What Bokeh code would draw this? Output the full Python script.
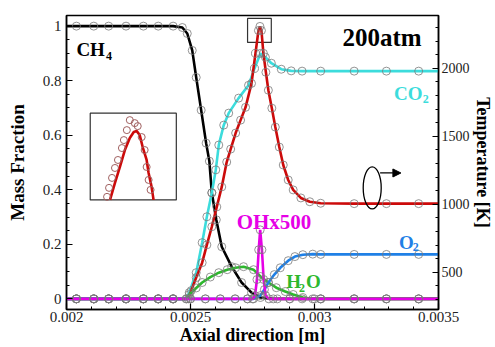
import numpy as np
from bokeh.plotting import figure
from bokeh.models import Range1d, LinearAxis, FixedTicker, Label, Arrow, NormalHead
from bokeh.embed import file_html
from bokeh.resources import INLINE

# ---------------- data ----------------
x_ticks = [0.002, 0.0025, 0.003, 0.0035]
x_tick_labels = ["0.002", "0.0025", "0.003", "0.0035"]
y_ticks = [0.0, 0.2, 0.4, 0.6, 0.8, 1.0]
y_tick_labels = ["0", "0.2", "0.4", "0.6", "0.8", "1"]
t_ticks = [500, 1000, 1500, 2000]
t_tick_labels = ["500", "1000", "1500", "2000"]

ch4_x = [0.0020, 0.00204, 0.00211, 0.00217, 0.00224, 0.00231, 0.00237, 0.00243,
         0.002467, 0.002487, 0.002507, 0.002523, 0.002543, 0.002563, 0.002576, 0.002586,
         0.002604, 0.002626, 0.002666, 0.002706, 0.002746, 0.002782, 0.002834, 0.00290,
         0.00300, 0.003025, 0.00316, 0.00329, 0.00342, 0.0035]
ch4_y = [1.0, 1.0, 1.0, 1.0, 1.0, 1.0, 1.0, 1.0,
         0.995, 0.973, 0.911, 0.812, 0.692, 0.571, 0.505, 0.389,
         0.290, 0.191, 0.118, 0.060, 0.023, 0.005, 0.0, 0.0,
         0.0, 0.0, 0.0, 0.0, 0.0, 0.0]

co2_x = [0.0020, 0.00204, 0.00211, 0.00217, 0.00224, 0.00231, 0.00237, 0.00243,
         0.002483, 0.002495, 0.002523, 0.002547, 0.002566, 0.002586, 0.002602, 0.002614,
         0.002634, 0.002654, 0.002694, 0.002734, 0.002758, 0.002782, 0.002802, 0.002826,
         0.002866, 0.002906, 0.00295, 0.003025, 0.00316, 0.00329, 0.00342, 0.0035]
co2_y = [0.0, 0.0, 0.0, 0.0, 0.0, 0.0, 0.0, 0.0,
         0.0, 0.023, 0.096, 0.206, 0.301, 0.389, 0.473, 0.564,
         0.637, 0.681, 0.736, 0.783, 0.845, 0.900, 0.886, 0.864,
         0.842, 0.836, 0.835, 0.835, 0.835, 0.835, 0.835, 0.835]

t_x = [0.0020, 0.00204, 0.00211, 0.00217, 0.00224, 0.00231, 0.00237, 0.00243,
       0.002491, 0.002503, 0.002523, 0.002547, 0.002566, 0.002586, 0.002606, 0.002626,
       0.002646, 0.002662, 0.002682, 0.002702, 0.002722, 0.002746, 0.002762, 0.002774,
       0.00278, 0.002786, 0.002794, 0.002804, 0.002814, 0.002828, 0.002842, 0.002858,
       0.002874, 0.002894, 0.002914, 0.002945, 0.002981, 0.003025, 0.00316, 0.00329,
       0.00342, 0.0035]
t_y = [305, 305, 305, 305, 305, 305, 305, 305,
       305, 366, 461, 571, 702, 835, 981, 1128,
       1311, 1406, 1524, 1619, 1713, 1889, 2110, 2278,
       2308, 2278, 2110, 1971, 1839, 1707, 1568, 1421,
       1289, 1179, 1106, 1047, 1019, 1008, 1005, 1005,
       1005, 1005]

h2o_x = [0.0020, 0.00204, 0.00211, 0.00217, 0.00224, 0.00231, 0.00237, 0.00243,
         0.002483, 0.002495, 0.002523, 0.002547, 0.00258, 0.002614, 0.002648, 0.002682,
         0.002714, 0.002754, 0.002782, 0.002814, 0.002846, 0.002882, 0.002914, 0.002953,
         0.002993, 0.003025, 0.00316, 0.00329, 0.00342, 0.0035]
h2o_y = [0.0, 0.0, 0.0, 0.0, 0.0, 0.0, 0.0, 0.0,
         0.0, 0.016, 0.040, 0.060, 0.080, 0.096, 0.107, 0.114,
         0.118, 0.107, 0.082, 0.060, 0.041, 0.027, 0.016, 0.005,
         0.0, 0.0, 0.0, 0.0, 0.0, 0.0]

oh_x = [0.0020, 0.00204, 0.00211, 0.00217, 0.00224, 0.00231, 0.00237, 0.00243,
        0.00250, 0.00256, 0.00262, 0.00268, 0.00273, 0.00275, 0.00276, 0.002768,
        0.002775, 0.002781, 0.002788, 0.002795, 0.002803, 0.002816, 0.00285, 0.00290,
        0.00295, 0.003025, 0.00316, 0.00329, 0.00342, 0.0035]
oh_y = [0.0, 0.0, 0.0, 0.0, 0.0, 0.0, 0.0, 0.0,
        0.0, 0.0, 0.0, 0.0, 0.0, 0.0, 0.012, 0.071,
        0.180, 0.253, 0.180, 0.071, 0.012, 0.0, 0.0, 0.0,
        0.0, 0.0, 0.0, 0.0, 0.0, 0.0]

o2_x = [0.0020, 0.00204, 0.00211, 0.00217, 0.00224, 0.00231, 0.00237, 0.00243,
        0.00250, 0.00256, 0.00262, 0.00268, 0.00273, 0.002754, 0.002782, 0.002798,
        0.002814, 0.002838, 0.002862, 0.002894, 0.002921, 0.002953, 0.002993, 0.003025,
        0.00316, 0.00329, 0.00342, 0.0035]
o2_y = [0.0, 0.0, 0.0, 0.0, 0.0, 0.0, 0.0, 0.0,
        0.0, 0.0, 0.0, 0.0, 0.0, 0.0, 0.012, 0.034,
        0.060, 0.089, 0.114, 0.140, 0.155, 0.162, 0.164, 0.163,
        0.163, 0.163, 0.163, 0.163]

# magnified temperature peak shown in the inset
inset_line_x = [0.0027521, 0.0027576, 0.0027631, 0.0027686, 0.0027741, 0.0027785, 0.0027818,
                0.0027851, 0.0027884, 0.0027928, 0.002795, 0.0027983, 0.0028005]
inset_line_t = [2190.6, 2225.0, 2257.3, 2291.7, 2316.0, 2328.1, 2330.1,
                2322.0, 2297.8, 2271.5, 2245.2, 2216.9, 2190.6]
inset_mark_x = [0.0027488, 0.002751, 0.0027543, 0.0027576, 0.0027609, 0.0027653, 0.0027675,
                0.0027708, 0.0027741, 0.0027796, 0.0027829, 0.0027873, 0.0027906, 0.0027928,
                0.002795, 0.0027972]
inset_mark_t = [2196.7, 2214.9, 2235.1, 2255.3, 2271.5, 2295.7, 2311.9,
                2332.1, 2352.4, 2346.3, 2340.2, 2318.0, 2291.7, 2257.3,
                2231.0, 2210.8]

# ---------------- style / layout ----------------
FONT = "Liberation Serif"
C_BLACK = "#000000"
C_CYAN = "#3cdcdc"
C_RED = "#cc0a0a"
C_GREEN = "#2db82d"
C_MAG = "#e600e6"
C_BLUE = "#1f80e6"
C_MARK = "#7a7a7a"

Y_LO, Y_HI = -0.039, 1.039
T0, TS = 305.0, 2005.0
T_LO, T_HI = T0 + TS * Y_LO, T0 + TS * Y_HI

p = figure(width=495, height=347, output_backend="svg", toolbar_location=None,
           x_range=Range1d(0.002, 0.0035), y_range=Range1d(Y_LO, Y_HI),
           min_border_left=66, min_border_right=53, min_border_top=15, min_border_bottom=37,
           background_fill_color="white", border_fill_color="white")
p.extra_y_ranges = {"T": Range1d(T_LO, T_HI)}
p.xgrid.visible = False
p.ygrid.visible = False
p.outline_line_color = "black"
p.outline_line_width = 1.5
p.outline_line_alpha = 1.0

taxis = LinearAxis(y_range_name="T")
p.add_layout(taxis, "right")


def style_axis(ax, ticks, labels, minor, label_text, tsize="15px", lsize="19px"):
    ax.ticker = FixedTicker(ticks=ticks, minor_ticks=minor)
    ax.major_label_overrides = {t: s for t, s in zip(ticks, labels)}
    ax.major_tick_in = 6
    ax.major_tick_out = 0
    ax.minor_tick_in = 3
    ax.minor_tick_out = 0
    ax.axis_line_color = "black"
    ax.axis_line_width = 1.5
    ax.major_tick_line_width = 1.2
    ax.minor_tick_line_width = 1.0
    ax.major_label_text_font = FONT
    ax.major_label_text_font_size = tsize
    ax.major_label_text_color = "#222222"
    ax.axis_label = label_text
    ax.axis_label_text_font = FONT
    ax.axis_label_text_font_size = lsize
    ax.axis_label_text_font_style = "bold"
    ax.axis_label_text_color = "black"


style_axis(p.xaxis[0], x_ticks, x_tick_labels,
           [round(v, 5) for v in np.arange(0.0020, 0.00351, 0.0001)], "Axial direction [m]",
           lsize="18px")
p.xaxis[0].major_label_standoff = 2
p.xaxis[0].axis_label_standoff = 0
style_axis(p.yaxis[0], y_ticks, y_tick_labels,
           [round(v, 3) for v in np.arange(0.0, 1.001, 0.05)], "Mass Fraction")
p.yaxis[0].major_label_standoff = 5
p.yaxis[0].axis_label_standoff = 12
style_axis(taxis, t_ticks, t_tick_labels,
           [float(v) for v in range(300, 2400, 100)], "Temperature [K]",
           tsize="14px", lsize="18px")
taxis.major_label_standoff = 3
taxis.axis_label_standoff = 0

# ---------------- inset frame + window square ----------------
BOX = (0.0020957, 0.0024428, 0.3629, 0.6809)   # inset rectangle (x0, x1, y0, y1)
WIN = (0.0027301, 0.0028258, 2190.5, 2366.5)   # zoom window (x0, x1, T0, T1)

p.quad(left=[BOX[0]], right=[BOX[1]], bottom=[BOX[2]], top=[BOX[3]],
       fill_color="white", line_color="#333333", line_width=1.2)
p.quad(left=[WIN[0]], right=[WIN[1]], bottom=[WIN[2]], top=[WIN[3]], y_range_name="T",
       fill_color=None, line_color="#333333", line_width=1.2)


def to_box(xs, ts):
    xs = np.asarray(xs, dtype=float)
    ts = np.asarray(ts, dtype=float)
    bx = BOX[0] + (xs - WIN[0]) / (WIN[1] - WIN[0]) * (BOX[1] - BOX[0])
    by = BOX[2] + (ts - WIN[2]) / (WIN[3] - WIN[2]) * (BOX[3] - BOX[2])
    return bx, by


bx, by = to_box(inset_line_x, inset_line_t)
p.line(bx, by, line_color=C_RED, line_width=2.6)
mx, my = to_box(inset_mark_x, inset_mark_t)
p.scatter(mx, my, marker="circle", size=7, fill_color=None, line_color="#a06060", line_width=1.0)

# ---------------- series ----------------
series = [
    (ch4_x, ch4_y, C_BLACK, "default"),
    (co2_x, co2_y, C_CYAN, "default"),
    (t_x, t_y, C_RED, "T"),
    (h2o_x, h2o_y, C_GREEN, "default"),
    (o2_x, o2_y, C_BLUE, "default"),
    (oh_x, oh_y, C_MAG, "default"),
]
for xs, ys, col, rng in series:
    p.line(xs, ys, line_color=col, line_width=2.6, y_range_name=rng)
for xs, ys, col, rng in series:
    p.scatter(xs[1:-1], ys[1:-1], marker="circle", size=8, fill_color=None,
              line_color=C_MARK, line_width=0.9, line_alpha=0.9, y_range_name=rng)

# ---------------- annotations ----------------
def lab(x, y, text, color, size, bold=True):
    p.add_layout(Label(x=x, y=y, text=text, text_color=color, text_font=FONT,
                       text_font_size=size, text_font_style="bold" if bold else "normal",
                       text_align="left", text_baseline="alphabetic"))


lab(0.0020399, 0.9148, "CH", C_BLACK, "19px")
lab(0.0021596, 0.8893, "4", C_BLACK, "12px")
lab(0.0031130, 0.9587, "200atm", C_BLACK, "25px")
lab(0.0033205, 0.7540, "CO", C_CYAN, "19px")
lab(0.0034362, 0.7321, "2", C_CYAN, "12px")
lab(0.0026862, 0.2825, "OHx500", C_MAG, "21px")
lab(0.0033404, 0.2080, "O", C_BLUE, "19px")
lab(0.0033963, 0.1905, "2", C_BLUE, "12px")
lab(0.0028856, 0.0632, "H", C_GREEN, "19px")
lab(0.0029375, 0.0413, "2", C_GREEN, "12px")
lab(0.0029654, 0.0632, "O", C_GREEN, "19px")

p.ellipse(x=[0.0032327], y=[0.4068], width=18, height=42, width_units="screen",
          height_units="screen", fill_color=None, line_color="black", line_width=1.3)
p.add_layout(Arrow(end=NormalHead(size=8, fill_color="black", line_color="black"),
                   x_start=0.0032646, y_start=0.4616, x_end=0.0033484, y_end=0.4616,
                   line_color="black", line_width=1.3))

open("out.html", "w").write(file_html(p, INLINE))
